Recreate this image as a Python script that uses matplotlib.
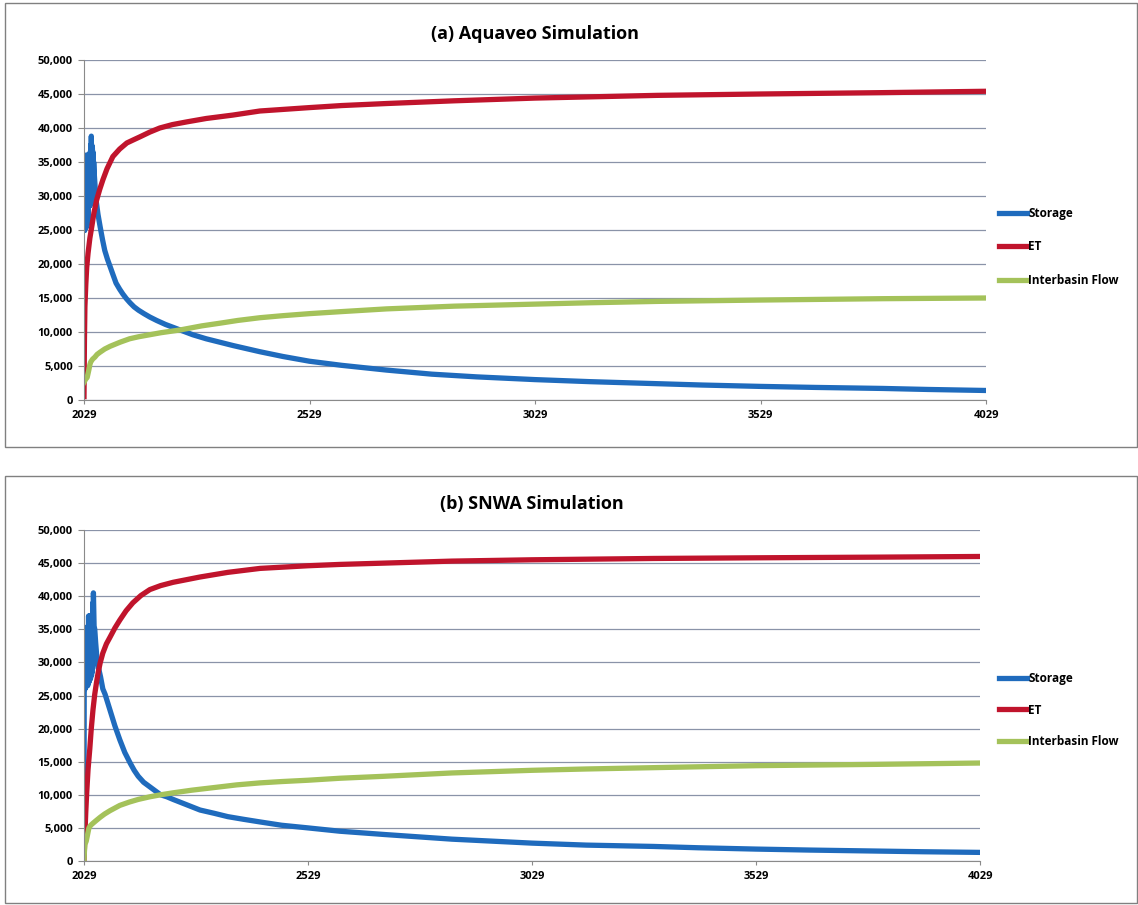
import matplotlib
matplotlib.use('Agg')
import matplotlib.pyplot as plt
from matplotlib.patches import Rectangle

plt.rcParams['font.family'] = ['Open Sans', 'DejaVu Sans']

# ---- panel (a) Aquaveo ----
a_storage_yr = [2029, 2029.6, 2030.2, 2030.8, 2031.4, 2032, 2032.6, 2033.2, 2033.8, 2034.4, 2035,
                2035.6, 2036.2, 2036.8, 2037.4, 2038, 2038.6, 2039.2, 2039.8, 2040.4, 2041,
                2041.6, 2042.2, 2042.8, 2043.4, 2044, 2044.6, 2045.2, 2045.8, 2046.4, 2047,
                2047.6, 2048.2, 2048.8, 2049.4, 2050.5, 2052, 2054, 2056,
                2060, 2065, 2070, 2075, 2081, 2087, 2094, 2100, 2108, 2115, 2123, 2131, 2140,
                2150, 2162, 2175, 2190, 2210, 2242, 2270, 2300, 2360, 2419, 2470, 2529, 2600,
                2700, 2800, 2900, 3029, 3150, 3300, 3400, 3529, 3650, 3800, 3900, 4029]
a_storage = [25000, 35000, 25000, 35500, 25200, 35500, 25300, 36000, 25500, 35800, 25500,
             36000, 26000, 35800, 26000, 36000, 26500, 35800, 28500, 36000, 28500, 36200,
             28600, 36500, 28800, 37500, 28800, 38800, 29000, 37500, 29000, 37000, 29000,
             36500, 29000, 35000, 33000, 31000, 29300,
             27300, 25400, 23600, 22000, 20700, 19600, 18300, 17200, 16300, 15600, 14900,
             14300, 13700, 13200, 12700, 12200, 11700, 11100, 10300, 9600, 9000, 8000, 7100,
             6400, 5700, 5100, 4400, 3800, 3400, 3000, 2700, 2400, 2200, 2000, 1850, 1700,
             1550, 1400]
a_et_yr = [2029, 2030, 2031, 2033, 2035, 2038, 2042, 2046, 2051, 2057, 2064, 2071, 2080, 2093,
           2108, 2124, 2140, 2153, 2175, 2197, 2225, 2257, 2300, 2359, 2419, 2529, 2600, 2700,
           2850, 3029, 3300, 3529, 3800, 4029]
a_et = [500, 9000, 13700, 17000, 19500, 21600, 23800, 25400, 27500, 29400, 31000, 32400, 34000,
        35800, 36900, 37800, 38300, 38700, 39400, 40000, 40500, 40900, 41400, 41900, 42500,
        43000, 43300, 43600, 44000, 44400, 44800, 45000, 45200, 45400]
a_flow_yr = [2029, 2033, 2036, 2038, 2040, 2042, 2044, 2048, 2053, 2058, 2064, 2075, 2087, 2098,
             2109, 2130, 2150, 2175, 2200, 2242, 2290, 2331, 2370, 2419, 2470, 2529, 2600, 2700,
             2850, 3029, 3150, 3300, 3529, 3800, 4029]
a_flow = [2600, 3100, 3300, 3900, 4500, 5200, 5600, 6000, 6300, 6700, 7000, 7500, 7900, 8200,
          8500, 9000, 9300, 9600, 9900, 10300, 10900, 11300, 11700, 12100, 12400, 12700, 13000,
          13400, 13800, 14100, 14300, 14500, 14700, 14900, 15000]

# ---- panel (b) SNWA ----
b_storage_yr = [2029, 2029.6, 2030.2, 2030.8, 2031.4, 2032, 2032.6, 2033.2, 2033.8, 2034.4, 2035,
                2035.6, 2036.2, 2036.8, 2037.4, 2038, 2038.6, 2039.2, 2039.8, 2040.4, 2041,
                2041.6, 2042.2, 2042.8, 2043.4, 2044, 2044.6, 2045.2, 2045.8, 2046.4, 2047,
                2047.6, 2048.2, 2048.8, 2049.4, 2050, 2051.5, 2053, 2055, 2058, 2062,
                2066, 2071, 2076, 2087, 2098, 2109, 2120, 2132, 2141, 2150, 2162, 2176, 2190,
                2200, 2214, 2228, 2258, 2288, 2320, 2350, 2385, 2422, 2470, 2529, 2600, 2700,
                2850, 3029, 3150, 3300, 3400, 3529, 3650, 3800, 3900, 4029]
b_storage = [2000, 35000, 26000, 35000, 26000, 35000, 26200, 35200, 26300, 35000, 26500,
             35200, 26500, 35000, 26500, 35500, 27000, 37000, 27000, 37000, 27200, 37000,
             27500, 37000, 27500, 37000, 28000, 37000, 28000, 37000, 28500, 37000, 29000,
             39000, 32000, 40500, 35500, 35000, 33000, 30500, 29000,
             27800, 26000, 25200, 22800, 20400, 18300, 16400, 14800, 13700, 12800, 11900,
             11200, 10500, 10000, 9700, 9300, 8500, 7700, 7200, 6700, 6300, 5900, 5400, 5000,
             4500, 4000, 3300, 2700, 2400, 2200, 2000, 1800, 1650, 1500, 1400, 1300]
b_et_yr = [2029, 2031, 2033, 2035, 2038, 2042, 2045, 2049, 2053, 2057, 2061, 2065, 2071, 2079,
           2087, 2098, 2109, 2123, 2138, 2156, 2176, 2200, 2228, 2258, 2288, 2350, 2422, 2529,
           2600, 2700, 2850, 3029, 3300, 3529, 3800, 4029]
b_et = [0, 4000, 7500, 10300, 13800, 17000, 19800, 22800, 25200, 27000, 28600, 29900, 31400,
        32800, 33800, 35200, 36400, 37800, 39000, 40100, 41000, 41600, 42100, 42500, 42900,
        43600, 44200, 44600, 44800, 45000, 45300, 45500, 45700, 45800, 45900, 46000]
b_flow_yr = [2029, 2030, 2031, 2034, 2037, 2040, 2044, 2049, 2056, 2065, 2075, 2087, 2098, 2109,
             2130, 2150, 2176, 2200, 2228, 2270, 2320, 2370, 2422, 2470, 2529, 2600, 2700, 2850,
             3029, 3150, 3300, 3529, 3800, 4029]
b_flow = [0, 1500, 2500, 3000, 4000, 5000, 5400, 5700, 6100, 6600, 7100, 7600, 8000, 8400,
          8900, 9300, 9700, 10000, 10300, 10700, 11100, 11500, 11800, 12000, 12200, 12500,
          12800, 13300, 13700, 13900, 14100, 14400, 14600, 14800]

x_ticks = [2029, 2529, 3029, 3529, 4029]
y_ticks = [0, 5000, 10000, 15000, 20000, 25000, 30000, 35000, 40000, 45000, 50000]
y_labels = ['0', '5,000', '10,000', '15,000', '20,000', '25,000', '30,000', '35,000',
            '40,000', '45,000', '50,000']
series_names = ['Storage', 'ET', 'Interbasin Flow']
colors = ['#1f6bbd', '#c0142c', '#a4c25a']

W, H = 1138, 905
fig = plt.figure(figsize=(W / 100, H / 100), dpi=100)

# panel frames
fig.patches.append(Rectangle((5 / W, 1 - 447 / H), 1132 / W, 444 / H,
                             transform=fig.transFigure, fill=False, edgecolor='#808080', lw=1.0))
fig.patches.append(Rectangle((5 / W, 1 - 903 / H), 1132 / W, 427 / H,
                             transform=fig.transFigure, fill=False, edgecolor='#808080', lw=1.0))

panels = [
    ('(a) Aquaveo Simulation', [84, 60, 986, 400],
     [(a_storage_yr, a_storage), (a_et_yr, a_et), (a_flow_yr, a_flow)], 247, 1.75),
    ('(b) SNWA Simulation', [84, 530, 980, 861],
     [(b_storage_yr, b_storage), (b_et_yr, b_et), (b_flow_yr, b_flow)], 710, 1.55),
]

for title, (x0, y0, x1, y1), series, leg_y, leg_sp in panels:
    ax = fig.add_axes([x0 / W, 1 - y1 / H, (x1 - x0) / W, (y1 - y0) / H])
    for (xs, ys), name, c in zip(series, series_names, colors):
        ax.plot(xs, ys, color=c, lw=3.8, label=name, solid_joinstyle='round')
    ax.set_xlim(2029, 4029)
    ax.set_ylim(0, 50000)
    ax.set_xticks(x_ticks, labels=[str(t) for t in x_ticks], fontweight='bold', fontsize=8)
    ax.set_yticks(y_ticks, labels=y_labels, fontweight='bold', fontsize=8)
    ax.grid(axis='y', color='#8a93a8', lw=0.9)
    ax.set_axisbelow(True)
    for s in ['top', 'right']:
        ax.spines[s].set_visible(False)
    for s in ['left', 'bottom']:
        ax.spines[s].set_color('#8a8a8a')
    ax.tick_params(axis='y', length=4, color='#8a8a8a', pad=4)
    ax.tick_params(axis='x', length=3, color='#8a8a8a', pad=4)
    ax.set_title(title, fontsize=13, fontweight='bold', pad=15)
    ax.legend(loc='center left', bbox_to_anchor=(993 / W, 1 - leg_y / H),
              bbox_transform=fig.transFigure, frameon=False,
              prop={'size': 8.5, 'weight': 'bold'},
              handlelength=2.4, handletextpad=0.1, labelspacing=leg_sp, borderpad=0)

fig.savefig('out.png', dpi=100)
